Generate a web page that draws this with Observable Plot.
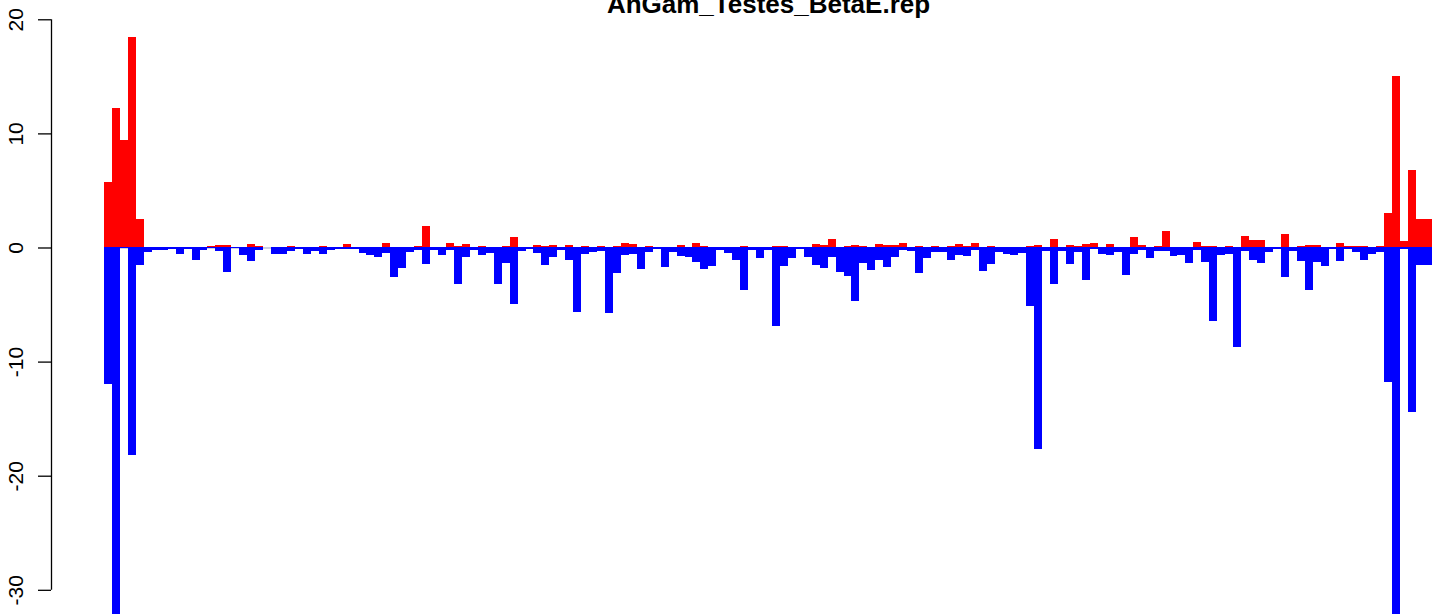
<!DOCTYPE html>
<html><head><meta charset="utf-8">
<script src="https://cdn.jsdelivr.net/npm/d3@7"></script>
<script src="https://cdn.jsdelivr.net/npm/@observablehq/plot@0.6"></script>
<style>html,body{margin:0;padding:0;background:#fff;overflow:hidden}svg{display:block}</style>
</head><body><div id="chart"></div>
<script>
const title = "AnGam_Testes_BetaE.rep";
const positive = [
  5.72, 12.2, 9.42, 18.46, 2.5, 0, 0, 0, 0, 0.05,
  0, 0, 0.05, 0.15, 0.2, 0.2, 0.05, 0, 0.3, 0.13,
  0, 0, 0.04, 0.13, 0, 0.04, 0.04, 0.13, 0.04, 0,
  0.3, 0, 0.04, 0, 0.04, 0.39, 0.04, 0, 0.04, 0.13,
  1.88, 0.04, 0.04, 0.39, 0.13, 0.3, 0, 0.13, 0, 0.04,
  0.13, 0.92, 0, 0, 0.22, 0.13, 0.22, 0, 0.22, 0.04,
  0.13, 0, 0.13, 0, 0.13, 0.39, 0.3, 0.04, 0.13, 0.04,
  0, 0, 0.22, 0.04, 0.39, 0.13, 0, 0, 0, 0,
  0.13, 0, 0, 0, 0.13, 0.13, 0.04, 0.04, 0, 0.3,
  0.22, 0.74, 0, 0.13, 0.22, 0.13, 0, 0.3, 0.22, 0.22,
  0.39, 0, 0.13, 0.04, 0.13, 0.04, 0.13, 0.3, 0.13, 0.39,
  0, 0.13, 0, 0, 0.04, 0.04, 0.13, 0.22, 0, 0.74,
  0, 0.22, 0.13, 0.3, 0.39, 0.04, 0.3, 0, 0.04, 0.92,
  0.22, 0.04, 0.13, 1.44, 0, 0.04, 0.04, 0.48, 0.13, 0.13,
  0.04, 0.13, 0.04, 1.0, 0.66, 0.66, 0.04, 0, 1.18, 0,
  0.13, 0.2, 0.2, 0, 0, 0.38, 0.14, 0.14, 0.14, 0,
  0.14, 3.01, 15.04, 0.58, 6.78, 2.5, 2.5
];
const negative = [
  -11.92, -33, -0.05, -18.19, -1.51, -0.38, -0.2, -0.2, -0.1, -0.55,
  -0.1, -1.06, -0.2, -0.05, -0.3, -2.11, -0.08, -0.63, -1.15, -0.19,
  0, -0.54, -0.54, -0.28, -0.1, -0.54, -0.28, -0.54, -0.19, -0.1,
  -0.1, -0.1, -0.45, -0.63, -0.8, -0.45, -2.55, -1.76, -0.36, -0.19,
  -1.41, -0.19, -0.63, -0.19, -3.16, -0.8, -0.19, -0.63, -0.45, -3.16,
  -1.33, -4.91, -0.28, -0.1, -0.45, -1.5, -0.8, -0.19, -1.06, -5.61,
  -0.54, -0.36, -0.28, -5.7, -2.2, -0.63, -0.54, -1.85, -0.36, -0.1,
  -1.68, -0.36, -0.71, -0.8, -1.24, -1.85, -1.59, -0.19, -0.45, -1.06,
  -3.69, -0.19, -0.89, -0.19, -6.92, -1.59, -0.89, -0.1, -0.8, -1.5,
  -1.76, -0.8, -2.11, -2.46, -4.65, -1.33, -1.94, -1.06, -1.68, -0.8,
  -0.19, -0.28, -2.2, -0.89, -0.36, -0.36, -1.06, -0.63, -0.71, -0.19,
  -2.03, -1.41, -0.36, -0.54, -0.63, -0.45, -5.17, -17.68, -0.28, -3.16,
  -0.3, -1.41, -0.36, -2.81, -0.1, -0.54, -0.63, -0.36, -2.38, -0.54,
  -0.19, -0.89, -0.28, -0.28, -0.71, -0.63, -1.33, -0.19, -1.24, -6.4,
  -0.63, -0.54, -8.76, -0.28, -1.06, -1.33, -0.36, -0.1, -2.55, -0.28,
  -1.15, -3.7, -1.23, -1.58, -0.14, -1.16, -0.14, -0.38, -1.06, -0.55,
  -0.38, -11.82, -33, -0.14, -14.46, -1.51, -1.51
];
const yTicks = [-30, -20, -10, 0, 10, 20];

const N = positive.length;
const rows = positive.map((p, i) => ({i, i2: i + 1, pos: p, neg: negative[i]}));
const W = 1433, H = 614, left = 51;
const regionWidth = 1434;            // width of the original plot region in px
const xStart = -0.04 * N;
const k = regionWidth / (1.08 * N);
const xEnd = xStart + (W - left) / k;

const chart = Plot.plot({
  width: W, height: H,
  marginLeft: left, marginRight: 0, marginTop: 0, marginBottom: 0,
  style: {fontFamily: "'Liberation Sans', Arial, Helvetica, sans-serif", background: "#fff", color: "black"},
  x: {domain: [xStart, xEnd], axis: null},
  y: {domain: [-32.12, 21.69], axis: null},
  marks: [
    Plot.ruleY([0], {x1: 0, x2: N, stroke: "#9aa0c8", strokeWidth: 1}),
    Plot.rectY(rows, {x1: "i", x2: "i2", y1: 0, y2: "pos", fill: "#ff0000", inset: 0, shapeRendering: "crispEdges", clip: true}),
    Plot.rectY(rows, {x1: "i", x2: "i2", y1: 0, y2: "neg", fill: "#0000ff", inset: 0, shapeRendering: "crispEdges", clip: true}),
    Plot.ruleX([xStart], {y1: d3.min(yTicks), y2: d3.max(yTicks), stroke: "black", strokeWidth: 1.3}),
    Plot.axisY(yTicks, {label: null, tickSize: 13, tickPadding: 16, tickRotate: -90, fontSize: 21, tickFormat: d => String(d), strokeWidth: 1.3}),
    Plot.text([title], {x: N / 2, frameAnchor: "top", lineAnchor: "bottom", dy: 12, fontSize: 26, fontWeight: "bold", fill: "black"})
  ]
});
document.getElementById("chart").appendChild(chart);
</script>
</body></html>
